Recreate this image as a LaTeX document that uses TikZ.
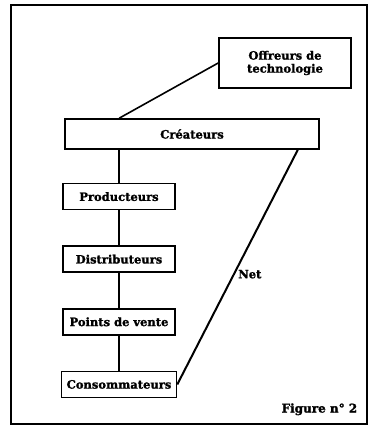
\documentclass[tikz,border=0pt]{standalone}
\usepackage{fontspec}
\setmainfont{DejaVu Serif}[BoldFeatures={FakeBold=1.5}]
\usetikzlibrary{positioning}
\begin{document}
\begin{tikzpicture}[x=1pt, y=-1pt, node distance={35pt}, line width=1.6pt, main/.style = {draw, rectangle, font=\bfseries\fontsize{11.5}{13}\selectfont, inner sep=1pt, minimum width=112pt, minimum height=26pt}]
    \useasboundingbox (0,0) rectangle (371,427);
    \draw[line width=1.8pt] (11,5) rectangle (367,424);
    \node[main, minimum width=132pt, minimum height=50pt, align=center] (1) at (285,63) {Offreurs de\\technologie};
    \node[main, minimum width=254pt, minimum height=30pt] (2) at (192,134) {Créateurs};
    \node[main] (3) [below=33pt of 2.south west, anchor=north west, xshift=-2pt] {Producteurs};
    \node[main] (4) [below=of 3] {Distributeurs};
    \node[main] (5) [below=of 4] {Points de vente};
    \node[main, minimum width=115pt] (6) [below=of 5] {Consommateurs};
    \node[font=\bfseries\fontsize{12}{13}\selectfont, anchor=south east, inner sep=0pt] (7) at (358,416) {Figure n° 2};
    \coordinate (a) at ([xshift=55pt]2.north west);
    \coordinate (b) at ([xshift=-22pt]2.south east);
    \coordinate (c) at (2.south -| 3.north);
    \draw (1.west) -- (a);
    \draw (c) -- (3) -- (4) -- (5) -- (6);
    \draw[line width=2pt] (b) -- node[pos=0.53, right, font=\bfseries\fontsize{11.5}{13}\selectfont] {Net} (6.east);
\end{tikzpicture}
\end{document}
